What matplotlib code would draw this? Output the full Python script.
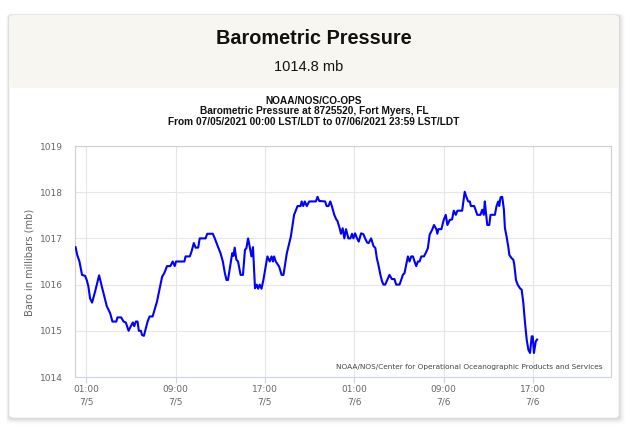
import matplotlib
matplotlib.use("Agg")
import matplotlib.pyplot as plt
from matplotlib.patches import FancyBboxPatch, Rectangle

# ---------------- data ----------------
hours = [0.05, 0.2, 0.4, 0.63, 0.9, 1.05, 1.2, 1.35, 1.53, 1.8, 2.16, 2.4, 2.85, 3.15, 3.35, 3.7, 3.8, 4.13,
         4.35, 4.55, 4.8, 5.0, 5.18, 5.3, 5.45, 5.6, 5.72, 5.9, 6.0, 6.17, 6.5, 6.68, 6.95, 7.34, 7.8, 8.0,
         8.24, 8.54, 8.75, 8.93, 9.05, 9.8, 9.9, 10.28, 10.43, 10.64, 10.8, 11.03, 11.17, 11.69, 11.84, 12.34,
         12.52, 12.8, 13.03, 13.24, 13.42, 13.57, 13.7, 13.93, 14.08, 14.19, 14.3, 14.45, 14.6, 14.83, 15.04,
         15.22, 15.35, 15.5, 15.67, 15.8, 15.94, 16.12, 16.27, 16.4, 16.54, 16.7, 16.87, 17.08, 17.23, 17.44,
         17.6, 17.73, 17.83, 17.98, 18.28, 18.5, 18.67, 18.97, 19.33, 19.62, 19.93, 20.2, 20.3, 20.44, 20.58,
         20.76, 20.97, 21.57, 21.72, 21.87, 22.4, 22.53, 22.7, 22.86, 23.0, 23.22, 23.4, 23.5, 23.7, 23.82,
         23.97, 24.12, 24.27, 24.48, 24.66, 24.81, 24.93, 25.08, 25.26, 25.41, 25.62, 25.83, 25.98, 26.16,
         26.3, 26.52, 26.72, 26.9, 27.03, 27.17, 27.35, 27.5, 27.62, 27.78, 27.96, 28.16, 28.38, 28.61, 28.76,
         29.06, 29.21, 29.36, 29.51, 29.66, 29.81, 29.96, 30.11, 30.26, 30.41, 30.56, 30.71, 30.86, 31.01,
         31.25, 31.4, 31.6, 31.76, 31.97, 32.15, 32.36, 32.45, 32.55, 32.81, 33.02, 33.2, 33.35, 33.56, 33.77,
         33.92, 34.1, 34.25, 34.67, 34.9, 35.06, 35.21, 35.36, 35.45, 35.75, 35.87, 36.02, 36.31, 36.46, 36.61,
         36.7, 36.79, 36.92, 37.1, 37.21, 37.6, 37.75, 37.9, 37.99, 38.11, 38.26, 38.41, 38.5, 38.65, 38.8,
         38.9, 39.1, 39.25, 39.34, 39.49, 39.64, 39.85, 40.0, 40.15, 40.3, 40.45, 40.6, 40.75, 40.9, 40.99,
         41.1, 41.26, 41.38]
pressure = [1016.81, 1016.64, 1016.50, 1016.21, 1016.19, 1016.10, 1015.96, 1015.70, 1015.61, 1015.85, 1016.20,
            1015.96, 1015.53, 1015.38, 1015.20, 1015.20, 1015.29, 1015.29, 1015.20, 1015.18, 1015.00, 1015.10,
            1015.18, 1015.10, 1015.20, 1015.20, 1015.00, 1015.00, 1014.91, 1014.89, 1015.20, 1015.31, 1015.31,
            1015.63, 1016.17, 1016.25, 1016.40, 1016.40, 1016.50, 1016.40, 1016.50, 1016.50, 1016.61, 1016.61,
            1016.71, 1016.90, 1016.80, 1016.80, 1017.00, 1017.00, 1017.10, 1017.10, 1017.00, 1016.82, 1016.68,
            1016.50, 1016.25, 1016.10, 1016.10, 1016.46, 1016.68, 1016.62, 1016.80, 1016.54, 1016.50, 1016.21,
            1016.21, 1016.75, 1016.79, 1017.00, 1016.79, 1016.61, 1016.81, 1015.92, 1016.00, 1015.91, 1016.00,
            1015.91, 1016.10, 1016.39, 1016.61, 1016.50, 1016.61, 1016.50, 1016.61, 1016.50, 1016.39, 1016.21,
            1016.21, 1016.68, 1017.04, 1017.51, 1017.70, 1017.70, 1017.80, 1017.70, 1017.80, 1017.70, 1017.80,
            1017.80, 1017.90, 1017.81, 1017.80, 1017.70, 1017.70, 1017.80, 1017.70, 1017.51, 1017.41, 1017.38,
            1017.22, 1017.10, 1017.22, 1017.00, 1017.20, 1017.00, 1017.00, 1017.10, 1017.00, 1017.11, 1017.00,
            1016.93, 1017.11, 1017.09, 1017.00, 1016.91, 1016.90, 1017.00, 1016.84, 1016.79, 1016.57, 1016.43,
            1016.21, 1016.07, 1016.00, 1016.00, 1016.10, 1016.21, 1016.12, 1016.12, 1016.00, 1016.00, 1016.10,
            1016.21, 1016.25, 1016.43, 1016.61, 1016.50, 1016.61, 1016.61, 1016.50, 1016.40, 1016.50, 1016.50,
            1016.61, 1016.61, 1016.68, 1016.79, 1017.08, 1017.18, 1017.29, 1017.20, 1017.10, 1017.20, 1017.20,
            1017.40, 1017.51, 1017.29, 1017.40, 1017.41, 1017.60, 1017.51, 1017.60, 1017.60, 1018.01, 1017.89,
            1017.80, 1017.80, 1017.70, 1017.70, 1017.62, 1017.51, 1017.51, 1017.62, 1017.51, 1017.80, 1017.58,
            1017.29, 1017.29, 1017.51, 1017.51, 1017.70, 1017.80, 1017.70, 1017.89, 1017.90, 1017.62, 1017.22,
            1017.04, 1016.82, 1016.64, 1016.57, 1016.54, 1016.43, 1016.10, 1016.00, 1015.92, 1015.89, 1015.60,
            1015.17, 1014.81, 1014.59, 1014.52, 1014.88, 1014.88, 1014.52, 1014.77, 1014.81]

xtick_hours = [1, 9, 17, 25, 33, 41]
xtick_labels = ["01:00\n7/5", "09:00\n7/5", "17:00\n7/5", "01:00\n7/6", "09:00\n7/6", "17:00\n7/6"]
ytick_values = [1014, 1015, 1016, 1017, 1018, 1019]

header_title = "Barometric Pressure"
header_value = "1014.8 mb"
chart_titles = ["NOAA/NOS/CO-OPS",
                "Barometric Pressure at 8725520, Fort Myers, FL",
                "From 07/05/2021 00:00 LST/LDT to 07/06/2021 23:59 LST/LDT"]
y_label = "Baro in millibars (mb)"
credits = "NOAA/NOS/Center for Operational Oceanographic Products and Services"

# ---------------- figure ----------------
W, H = 639, 444
fig = plt.figure(figsize=(W / 100, H / 100), dpi=100)
fig.patch.set_facecolor("white")

def fx(px):
    return px / W

def fy(py):
    return 1 - py / H

# card shadow
card_l, card_r, card_t, card_b = 9, 619, 15, 418
for i, a in enumerate([0.05, 0.04, 0.03, 0.02, 0.012]):
    g = i + 1
    sh = FancyBboxPatch((fx(card_l - g * 0.6), fy(card_b + g * 1.3)),
                        fx(card_r - card_l + g * 1.8), (card_b - card_t + g * 1.6) / H,
                        boxstyle="round,pad=0,rounding_size=0.008",
                        transform=fig.transFigure, facecolor="black", edgecolor="none",
                        alpha=a, zorder=0)
    fig.patches.append(sh)

card = FancyBboxPatch((fx(card_l), fy(card_b)), fx(card_r - card_l), (card_b - card_t) / H,
                      boxstyle="round,pad=0,rounding_size=0.008",
                      transform=fig.transFigure, facecolor="white", edgecolor="#e4e4e4",
                      linewidth=0.5, zorder=1)
fig.patches.append(card)
header = FancyBboxPatch((fx(card_l + 0.3), fy(88)), fx(card_r - card_l - 0.6), (88 - card_t - 0.3) / H,
                        boxstyle="round,pad=0,rounding_size=0.008",
                        transform=fig.transFigure, facecolor="#f8f6f0", edgecolor="none", zorder=2)
fig.patches.append(header)
fig.patches.append(Rectangle((fx(card_l + 0.3), fy(88)), fx(card_r - card_l - 0.6), 6 / H,
                             transform=fig.transFigure, facecolor="#f8f6f0", edgecolor="none", zorder=2))

fig.text(fx(314), fy(39), header_title, ha="center", va="center", fontsize=14.3,
         fontweight="bold", family="Liberation Sans", color="#111111", zorder=3)
fig.text(fx(309), fy(67), header_value, ha="center", va="center", fontsize=10.5,
         family="Liberation Sans", color="#111111", zorder=3)

for i, t in enumerate(chart_titles):
    fig.text(fx(314), fy(101 + i * 10.4), t, ha="center", va="center", fontsize=7.3,
             fontweight="bold", family="Liberation Sans", color="#111111", zorder=3)

# ---------------- axes ----------------
ax_l, ax_r, ax_t, ax_b = 75, 611, 146, 377
ax = fig.add_axes([fx(ax_l), fy(ax_b), fx(ax_r - ax_l), (ax_b - ax_t) / H], zorder=4)
ax.set_facecolor("white")
ax.plot(hours, pressure, color="#0000ff", linewidth=1.5, solid_joinstyle="round", zorder=3)

ax.set_xlim(0, 48)
ax.set_ylim(1014, 1019)
ax.set_yticks(ytick_values)
ax.set_yticklabels([str(v) for v in ytick_values])
ax.set_xticks(xtick_hours)
ax.set_xticklabels(xtick_labels)
ax.grid(True, color="#e6e6e6", linewidth=0.8)
ax.set_axisbelow(True)

for s in ["left", "top", "right"]:
    ax.spines[s].set_color("#d0d0d0")
    ax.spines[s].set_linewidth(0.8)
ax.spines["bottom"].set_color("#ccd6eb")
ax.spines["bottom"].set_linewidth(0.8)

ax.tick_params(axis="y", length=0, pad=9, labelsize=6.5, labelcolor="#666666")
ax.tick_params(axis="x", length=4, width=0.8, color="#ccd6eb", pad=1.8,
               labelsize=6.5, labelcolor="#666666")
for lbl in ax.get_xticklabels():
    lbl.set_linespacing(1.5)
for lbl in ax.get_yticklabels() + ax.get_xticklabels():
    lbl.set_family("DejaVu Sans")

fig.text(fx(29), fy(262), y_label, rotation=90, ha="center", va="center", fontsize=7.1,
         color="#666666", family="DejaVu Sans", zorder=5)

ax.text(0.985, 0.045, credits, transform=ax.transAxes, ha="right", va="center",
        fontsize=5.3, color="#444444", family="DejaVu Sans", zorder=5)

fig.savefig("out.png", dpi=100, facecolor="white")
